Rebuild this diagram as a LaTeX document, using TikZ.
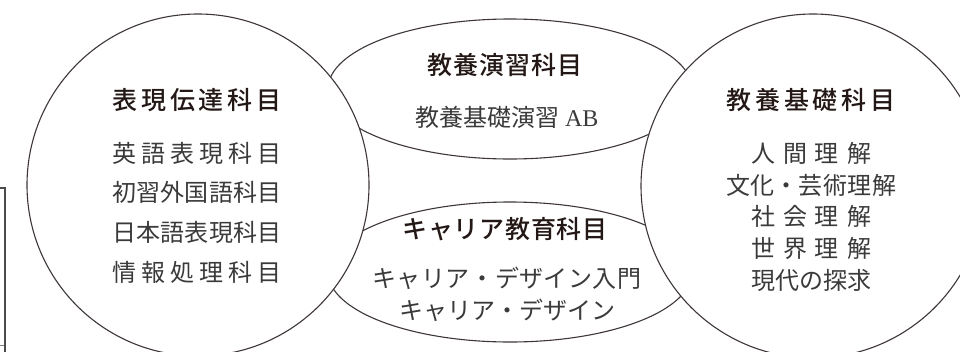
\documentclass[tikz,border=0pt]{standalone}
\usepackage{fontspec}
\setmainfont{Noto Sans CJK JP}[BoldFont={Noto Sans CJK JP Medium}]
\newfontfamily\latin{Liberation Serif}
\usetikzlibrary{shapes.geometric}
\definecolor{senIro}{HTML}{3E3638}
\definecolor{moji}{HTML}{3A3A3A}
\definecolor{midashi}{HTML}{231815}
\tikzset{
  waku/.style={draw=senIro, line width=1.1pt},
  maru/.style={waku, circle, fill=white, inner sep=0pt},
  daen/.style={waku, ellipse, minimum width=364pt, minimum height=140pt, inner sep=0pt},
  midashiT/.style={font=\fontsize{25}{25}\selectfont\bfseries, text=midashi, inner sep=0pt},
  koumoku/.style={font=\fontsize{24}{24}\selectfont, text=moji, inner sep=0pt},
}
% spread the characters of #2 over the width #1
\newcommand\spreadtext[2]{\makebox[#1][s]{\spaceskip=0pt plus 1fil\xspaceskip=0pt plus 1fil\relax #2}}
\begin{document}
\begin{tikzpicture}[x=1pt,y=-1pt]
\useasboundingbox (0,0) rectangle (960,351);

% ellipses behind, circles on top
\node[daen] (enshuu) at (510,89) {};
\node[daen] (career) at (510,272) {};
\node[maru, minimum size=342pt] (hyougen) at (198,185) {};
\node[maru, minimum size=344pt] (kiso) at (813,186) {};

% frame at the left edge
\draw[draw=black!70, line width=1.4pt] (0,188) -- (5,188) -- (5,356);
\draw[draw=black!50, line width=1pt] (0,345) -- (4,345);

% left circle
\node[midashiT] (hyougenT) at (197,100) {\spreadtext{169pt}{表 現 伝 達 科 目}};
\foreach \y/\t [count=\i] in {153/英 語 表 現 科 目, 192/初 習 外 国 語 科 目, 232/日 本 語 表 現 科 目, 272/情 報 処 理 科 目}
  \node[koumoku] (hyougen\i) at (197,\y) {\spreadtext{169pt}{\t}};

% right circle
\node[midashiT] (kisoT) at (811,100) {\spreadtext{169pt}{教 養 基 礎 科 目}};
\foreach \y/\w/\t [count=\i] in {153/120pt/人 間 理 解, 185/170pt/文 化 ・ 芸 術 理 解, 216/120pt/社 会 理 解, 248/120pt/世 界 理 解, 280/120pt/現 代 の 探 求}
  \node[koumoku] (kiso\i) at (811,\y) {\spreadtext{\w}{\t}};

% top ellipse
\node[midashiT] (enshuuT) at (505,65) {\spreadtext{155pt}{教 養 演 習 科 目}};
\node[koumoku] (enshuu1) at (507,117) {教養基礎演習 {\latin AB}};

% bottom ellipse
\node[midashiT] (careerT) at (505,229) {\spreadtext{205pt}{キ ャ リ ア 教 育 科 目}};
\node[koumoku] (career1) at (507,278) {\spreadtext{269pt}{キ ャ リ ア ・ デ ザ イ ン 入 門}};
\node[koumoku] (career2) at (507,310) {キャリア・デザイン};
\end{tikzpicture}
\end{document}
